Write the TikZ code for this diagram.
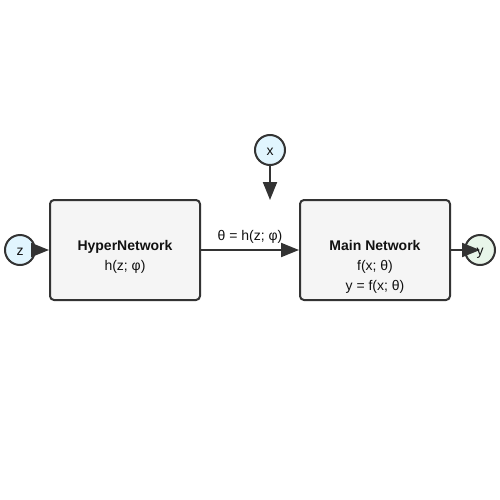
\documentclass[tikz,border=0pt]{standalone}
\usepackage{fontspec}
\setmainfont{Liberation Sans}
\usetikzlibrary{arrows.meta}
\definecolor{edgec}{HTML}{333333}
\definecolor{boxfill}{HTML}{F5F5F5}
\definecolor{inblue}{HTML}{E1F5FE}
\definecolor{outgreen}{HTML}{E8F5E9}
\definecolor{txt}{HTML}{111111}
\begin{document}
\begin{tikzpicture}[x=0.75pt,y=-0.75pt,
  netbox/.style={draw=edgec,fill=boxfill,line width=1.5pt,rounded corners=3pt,minimum width=112.5pt,minimum height=75pt,inner sep=0pt},
  io/.style={circle,draw=edgec,line width=1.5pt,minimum size=22.5pt,inner sep=0pt},
  lbl/.style={font=\fontsize{10.5}{12}\selectfont,text=txt,inner sep=0pt,anchor=base},
  conn/.style={draw=edgec,line width=1.5pt,-{Triangle[length=13.5pt,width=10.5pt]}}]
\useasboundingbox (0,0) rectangle (500,500);
\node[netbox] (hyper) at (125,250) {};
\node[netbox] (main) at (375,250) {};
\node[io,fill=inblue] (z) at (20,250) {};
\node[io,fill=inblue] (x) at (270,150) {};
\node[io,fill=outgreen] (y) at (480,250) {};
\coordinate (xend) at (270,200);
\node[lbl,font=\fontsize{10.5}{12}\selectfont\bfseries] (hyt1) at (125,250) {HyperNetwork};
\node[lbl] (hyt2) at (125,270) {h(z; φ)};
\node[lbl,font=\fontsize{10.5}{12}\selectfont\bfseries] (mt1) at (375,250) {Main Network};
\node[lbl] (mt2) at (375,270) {f(x; θ)};
\node[lbl] (mt3) at (375,290) {y = f(x; θ)};
\draw[conn] (z) -- (hyper.west);
\draw[conn] (hyper.east) -- (main.west);
\node[lbl] (theta) at (250,240) {θ = h(z; φ)};
\draw[conn] (x) -- (xend);
\draw[conn] (main.east) -- (y.center);
\node[lbl] (zt) at (20,255) {z};
\node[lbl] (xt) at (270,155) {x};
\node[lbl] (yt) at (480,255) {y};
\end{tikzpicture}
\end{document}
